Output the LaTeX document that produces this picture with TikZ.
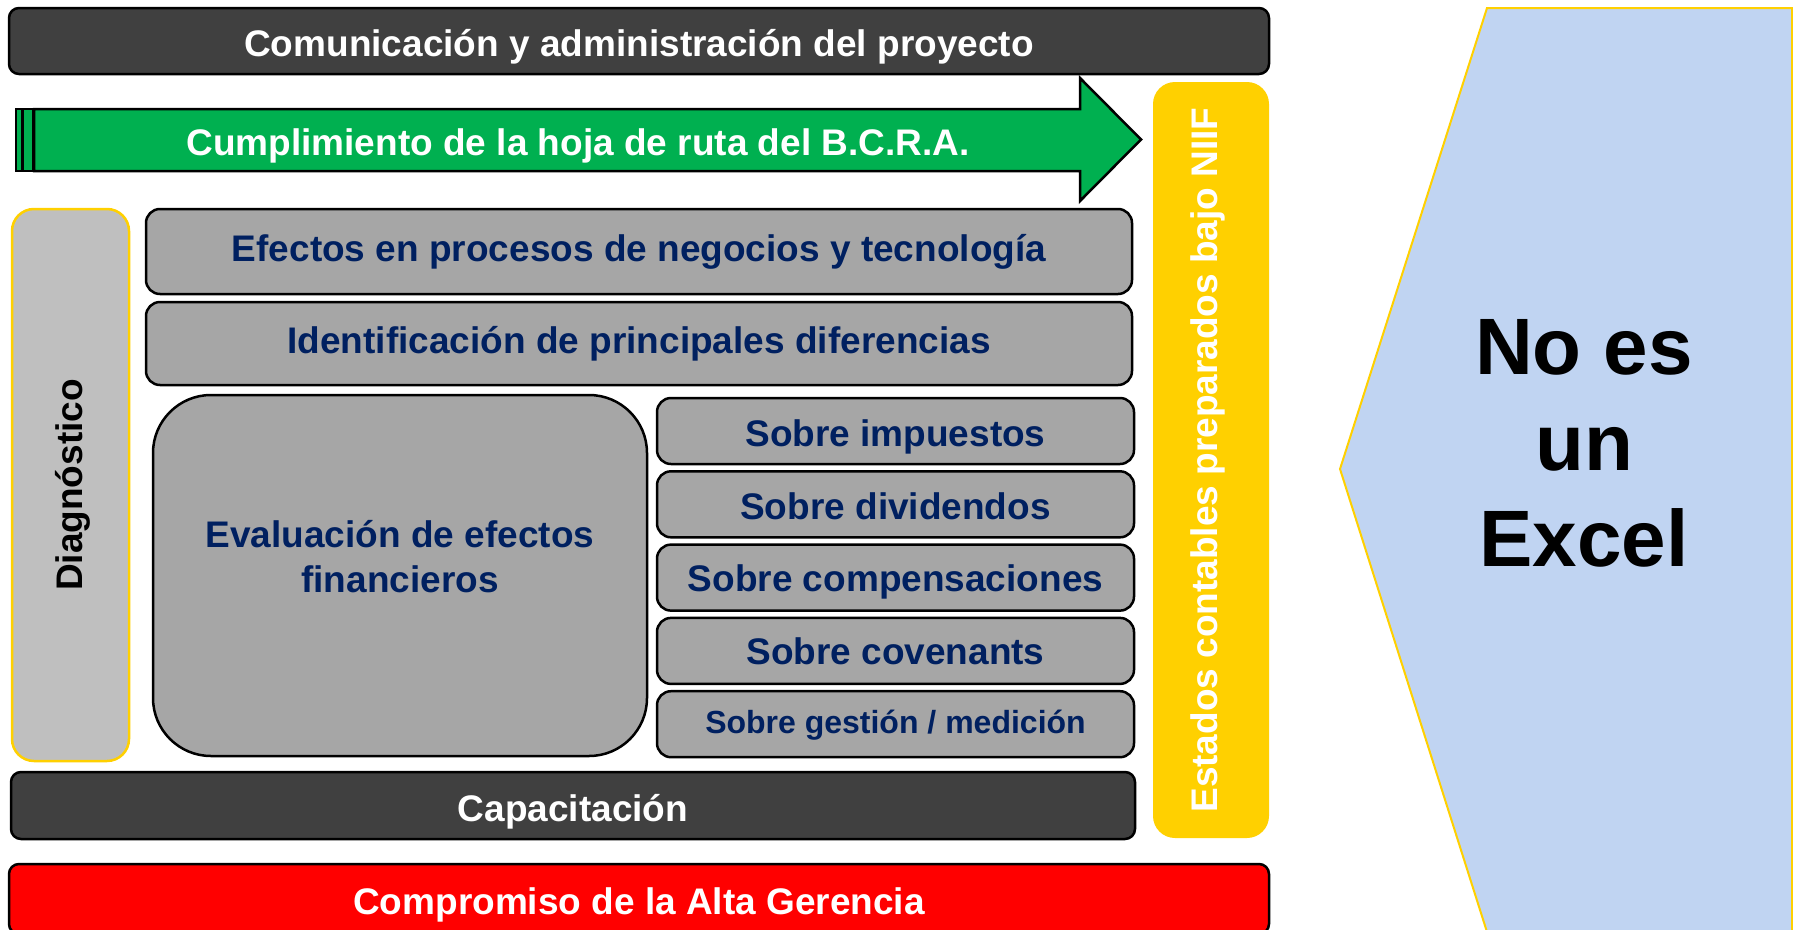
\documentclass[tikz,border=0pt]{standalone}
\usepackage{fontspec}
\setmainfont{Liberation Sans}
\usepackage{xcolor}
\usepackage{tikz}
\usetikzlibrary{calc,positioning}
\definecolor{cDark}{RGB}{64,64,64}
\definecolor{cGray}{RGB}{166,166,166}
\definecolor{cDiag}{RGB}{191,191,191}
\definecolor{cGold}{RGB}{255,208,0}
\definecolor{cGreen}{RGB}{0,176,80}
\definecolor{cNavy}{RGB}{0,32,96}
\definecolor{cSky}{RGB}{192,212,242}
\newcommand{\txtbig}{\fontsize{37}{45}\selectfont\bfseries}
\newcommand{\txtmid}{\fontsize{32}{38}\selectfont\bfseries}
\newcommand{\txthuge}{\fontsize{80}{96}\selectfont\bfseries}
% lower the text inside a box without changing its size
\newcommand{\lowr}[2]{\raisebox{-#1}[\height][\depth]{#2}}
\tikzset{
  barbox/.style={draw=black, line width=2.5pt, rounded corners=10pt, text=white, font=\txtbig, inner sep=0pt, outer sep=0pt},
  graybox/.style={draw=black, line width=2.5pt, rounded corners=14pt, fill=cGray, text=cNavy, font=\txtbig, inner sep=0pt, outer sep=0pt},
  sobre/.style={graybox, minimum width=477pt, minimum height=66pt},
  sidebox/.style={line width=2.5pt, rounded corners=22pt, font=\txtbig, inner sep=0pt, outer sep=0pt, rotate=90},
  arrowbody/.style={draw=black, line width=2.5pt, fill=cGreen, line join=miter}
}

\begin{document}
\begin{tikzpicture}[x=1pt,y=-1pt]
  \useasboundingbox (0,0) rectangle (1793,929);
  % chevron on the right
  \draw[cGold, line width=2pt, fill=cSky] (1792,8) -- (1487,8) -- (1340,469) -- (1487,932) -- (1792,932) -- cycle;
  \node[font=\txthuge, align=center] (excel) at (1584,443) {No es\\un\\Excel};

  % top and bottom bars
  \node[barbox, fill=cDark, minimum width=1260pt, minimum height=66pt] (comun) at (639,41) {\lowr{6pt}{Comunicaci\'on y administraci\'on del proyecto}};
  \node[barbox, fill=cDark, minimum width=1124pt, minimum height=67pt] (capac) at (573,805.5) {\lowr{6pt}{Capacitaci\'on}};
  \node[barbox, fill=red, minimum width=1260pt, minimum height=70pt] (alta) at (639,899) {\lowr{5.5pt}{Compromiso de la Alta Gerencia}};

  % green arrow
  \draw[arrowbody, line width=1.5pt] (16,109) rectangle (22,171);
  \draw[arrowbody, line width=1.5pt] (23,109) rectangle (33,171);
  \draw[arrowbody] (34,109) -- (1080,109) -- (1080,78) -- (1141,139.5) -- (1080,201) -- (1080,171) -- (34,171) -- cycle;
  \node[text=white, font=\txtbig] (ruta) at (578,145.5) {Cumplimiento de la hoja de ruta del B.C.R.A.};

  % side boxes
  \node[sidebox, draw=cGold, fill=cDiag, minimum width=552pt, minimum height=117pt] (diag) at (70.5,485) {\lowr{2.3pt}{Diagn\'ostico}};
  \node[sidebox, fill=cGold, text=white, minimum width=756pt, minimum height=116pt] (niif) at (1211,460) {\lowr{-3.4pt}{Estados contables preparados bajo NIIF}};

  % middle blocks
  \node[graybox, minimum width=986pt, minimum height=85pt] (efectos) at (639,251.5) {Efectos en procesos de negocios y tecnolog\'ia};
  \node[graybox, minimum width=986pt, minimum height=83pt] (difer) at (639,343.5) {Identificaci\'on de principales diferencias};
  \node[graybox, rounded corners=58pt, minimum width=494pt, minimum height=361pt] (evalbox) at (400,575.5) {};
  \node[text=cNavy, font=\txtbig, align=center] (evaltxt) at (400,557) {Evaluaci\'on de efectos\\financieros};

  \node[sobre] (impuestos) at (895.5,431) {\lowr{6pt}{Sobre impuestos}};
  \node[sobre, below=7.3pt of impuestos] (dividendos) {\lowr{2pt}{Sobre dividendos}};
  \node[sobre, below=7.3pt of dividendos] (compens) {\lowr{4.5pt}{Sobre compensaciones}};
  \node[sobre, below=7.3pt of compens] (covenants) {Sobre covenants};
  \node[sobre, font=\txtmid, below=7.3pt of covenants] (gestion) {\lowr{1pt}{Sobre gesti\'on / medici\'on}};
\end{tikzpicture}
\end{document}
